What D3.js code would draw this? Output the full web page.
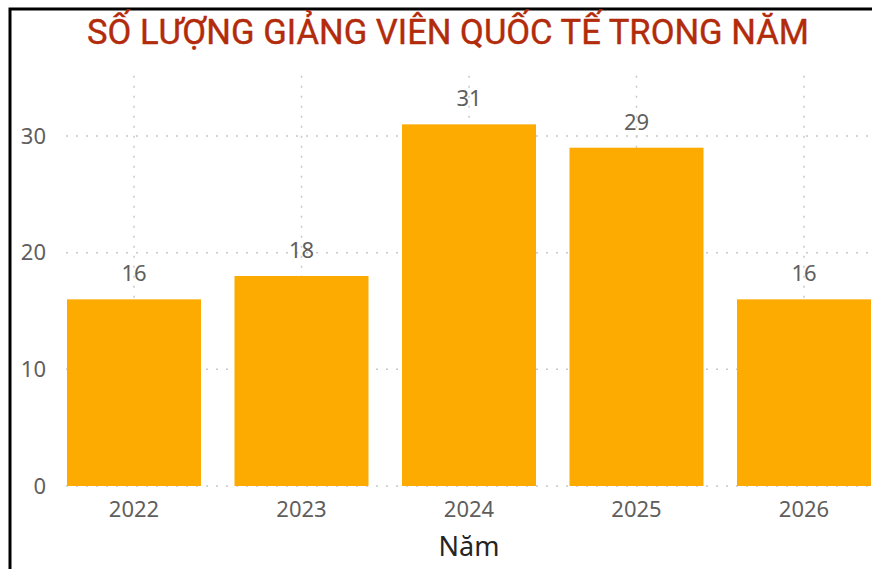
<!DOCTYPE html>
<html>
<head>
<meta charset="utf-8">
<script src="https://cdn.jsdelivr.net/npm/d3@7"></script>
<style>
  body { margin: 0; background: #fff; }
  svg { display: block; }
</style>
</head>
<body>
<div id="chart"></div>
<script>
const years = ['2022', '2023', '2024', '2025', '2026'];
const counts = [16, 18, 31, 29, 16];
const yTicks = [0, 10, 20, 30];
const title = 'SỐ LƯỢNG GIẢNG VIÊN QUỐC TẾ TRONG NĂM';
const xTitle = 'Năm';

const width = 872;
const height = 569;
const barCol = '#fdab00';
const gridCol = '#c8c8c8';
const labelCol = '#605e5c';

const svg = d3.select('#chart')
  .append('svg')
  .attr('width', width)
  .attr('height', height);

const x = d3.scaleBand()
  .domain(years)
  .range([50.25, 887.75])
  .paddingInner(0.2)
  .paddingOuter(0.1);

const y = d3.scaleLinear()
  .domain([0, 35])
  .range([486, 77.7]);

// frame, only left and top edges are visible
svg.append('path')
  .attr('d', `M10,${height} V9 H${width}`)
  .attr('fill', 'none')
  .attr('stroke', '#000')
  .attr('stroke-width', 3);

svg.append('text')
  .attr('x', 448)
  .attr('y', 44)
  .attr('text-anchor', 'middle')
  .style('font-family', 'Roboto, sans-serif')
  .style('font-size', '34.6px')
  .style('fill', '#b22b0b')
  .style('stroke', '#b22b0b')
  .style('stroke-width', 0.4)
  .text(title);

// grid
svg.append('g')
  .selectAll('line')
  .data(yTicks)
  .join('line')
  .attr('x1', 66)
  .attr('x2', width)
  .attr('y1', d => y(d))
  .attr('y2', d => y(d))
  .attr('stroke', gridCol)
  .attr('stroke-width', 1.5)
  .attr('stroke-dasharray', '2 8');

svg.append('g')
  .selectAll('line')
  .data(years)
  .join('line')
  .attr('x1', d => x(d) + x.bandwidth() / 2)
  .attr('x2', d => x(d) + x.bandwidth() / 2)
  .attr('y1', y(35) - 2)
  .attr('y2', y(0))
  .attr('stroke', gridCol)
  .attr('stroke-width', 1.5)
  .attr('stroke-dasharray', '2 8');

// y axis labels
svg.append('g')
  .selectAll('text')
  .data(yTicks)
  .join('text')
  .attr('x', 46)
  .attr('y', d => y(d))
  .attr('dy', '0.35em')
  .attr('text-anchor', 'end')
  .style('font-family', '"Noto Sans", sans-serif')
  .style('font-size', '22px')
  .style('fill', labelCol)
  .text(d => d);

// bars
svg.append('g')
  .selectAll('rect')
  .data(counts)
  .join('rect')
  .attr('x', (d, i) => x(years[i]))
  .attr('y', d => y(d))
  .attr('width', x.bandwidth())
  .attr('height', d => y(0) - y(d))
  .attr('fill', barCol);

// value labels
svg.append('g')
  .selectAll('text')
  .data(counts)
  .join('text')
  .attr('x', (d, i) => x(years[i]) + x.bandwidth() / 2)
  .attr('y', d => y(d) - 18)
  .attr('text-anchor', 'middle')
  .style('font-family', '"Noto Sans", sans-serif')
  .style('font-size', '22px')
  .style('fill', labelCol)
  .text(d => d);

// x axis labels
svg.append('g')
  .selectAll('text')
  .data(years)
  .join('text')
  .attr('x', d => x(d) + x.bandwidth() / 2)
  .attr('y', 517)
  .attr('text-anchor', 'middle')
  .style('font-family', '"Noto Sans", sans-serif')
  .style('font-size', '22px')
  .style('fill', labelCol)
  .text(d => d);

svg.append('text')
  .attr('x', 469)
  .attr('y', 556)
  .attr('text-anchor', 'middle')
  .style('font-family', '"Noto Sans", sans-serif')
  .style('font-size', '27px')
  .style('fill', '#252423')
  .text(xTitle);
</script>
</body>
</html>
